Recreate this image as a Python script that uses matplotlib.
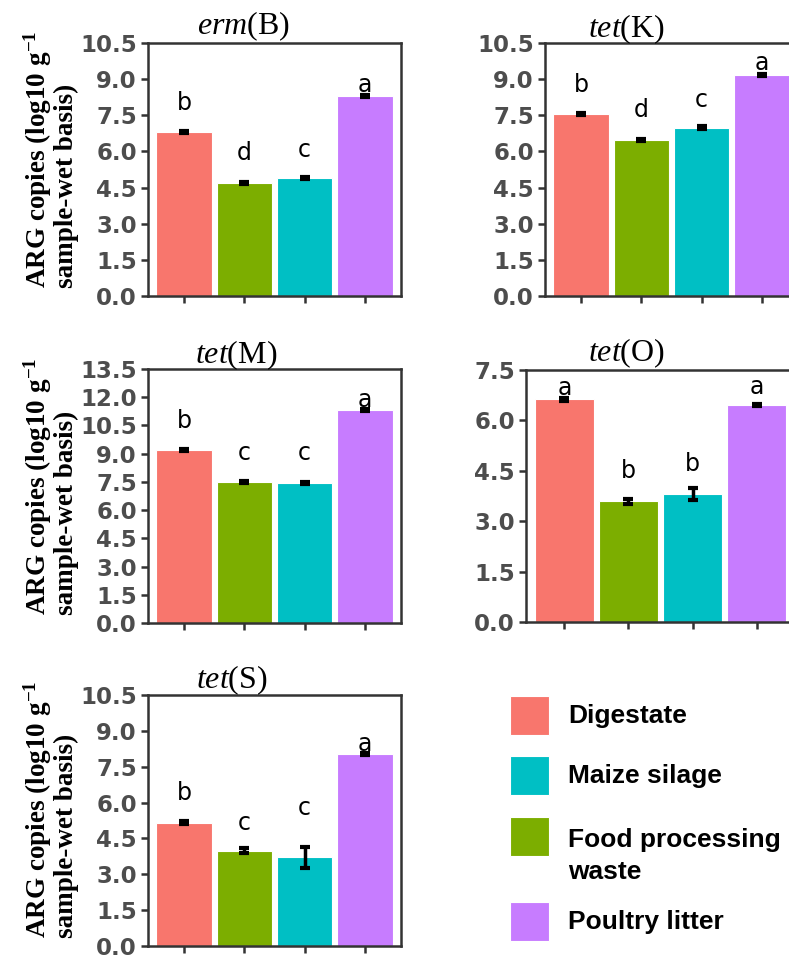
import matplotlib
matplotlib.use("Agg")
import matplotlib.pyplot as plt
from matplotlib.patches import Rectangle
import numpy as np

plt.rcParams['mathtext.fontset'] = 'custom'
plt.rcParams['mathtext.rm'] = 'Liberation Serif'
plt.rcParams['mathtext.it'] = 'Liberation Serif:italic'
plt.rcParams['mathtext.bf'] = 'Liberation Serif:bold'

# sample types, in bar order
categories = ["Digestate", "Food processing waste", "Maize silage", "Poultry litter"]
colors = ["#F8766D", "#7CAE00", "#00BFC4", "#C77CFF"]

# mean ARG copies (log10 g-1) and error bars
ermB = [6.82, 4.70, 4.88, 8.31]
ermB_err = [0.04, 0.05, 0.04, 0.05]
ermB_sig = ["b", "d", "c", "a"]
ermB_sig_y = [8.0, 5.92, 6.06, 8.76]

tetK = [7.54, 6.47, 6.98, 9.18]
tetK_err = [0.04, 0.05, 0.06, 0.05]
tetK_sig = ["b", "d", "c", "a"]
tetK_sig_y = [8.76, 7.72, 8.13, 9.65]

tetM = [9.20, 7.50, 7.43, 11.33]
tetM_err = [0.05, 0.06, 0.04, 0.06]
tetM_sig = ["b", "c", "c", "a"]
tetM_sig_y = [10.71, 9.02, 9.02, 11.86]

tetO = [6.63, 3.59, 3.81, 6.46]
tetO_err = [0.04, 0.07, 0.17, 0.04]
tetO_sig = ["a", "b", "b", "a"]
tetO_sig_y = [6.96, 4.48, 4.70, 7.0]

tetS = [5.16, 3.99, 3.72, 8.02]
tetS_err = [0.05, 0.10, 0.44, 0.05]
tetS_sig = ["b", "c", "c", "a"]
tetS_sig_y = [6.39, 5.16, 5.76, 8.45]

W, H = 789, 966
fig = plt.figure(figsize=(W / 100, H / 100), dpi=100)


def px_axes(left, top, width, height):
    return fig.add_axes([left / W, 1 - (top + height) / H, width / W, height / H])


panels = [
    # gene prefix, suffix, values, errors, letters, letter y, ymax, box (px), title centre (px)
    ("erm", "(B)", ermB, ermB_err, ermB_sig, ermB_sig_y, 10.5, (148, 43, 253, 253), (244, 26)),
    ("tet", "(K)", tetK, tetK_err, tetK_sig, tetK_sig_y, 10.5, (545, 43, 253, 253), (627, 29)),
    ("tet", "(M)", tetM, tetM_err, tetM_sig, tetM_sig_y, 13.5, (148, 369, 253, 254), (236, 355)),
    ("tet", "(O)", tetO, tetO_err, tetO_sig, tetO_sig_y, 7.5, (526, 370, 269, 252), (627, 353)),
    ("tet", "(S)", tetS, tetS_err, tetS_sig, tetS_sig_y, 10.5, (148, 695, 253, 251), (232, 680)),
]

x = np.arange(1, len(categories) + 1)
ylab = "ARG copies (log10 g$^{\\mathbf{-1}}$\nsample-wet basis)"

for prefix, suffix, vals, errs, sig, sig_y, ymax, box, tpos in panels:
    ax = px_axes(*box)
    ax.bar(x, vals, width=0.92, color=colors, edgecolor="white", linewidth=0.8, zorder=2)
    ax.errorbar(x, vals, yerr=errs, fmt="none", ecolor="black", elinewidth=2.5,
                capsize=3.5, capthick=3, zorder=3)
    for xi, s, sy in zip(x, sig, sig_y):
        ax.text(xi, sy, s, ha="center", va="center", fontsize=17,
                family="DejaVu Sans", color="black", zorder=4)
    ax.set_xlim(0.4, 4.6)
    ax.set_ylim(0, ymax)
    ax.set_yticks(np.arange(0, ymax + 0.01, 1.5))
    ax.set_yticklabels(["%.1f" % t for t in np.arange(0, ymax + 0.01, 1.5)])
    ax.set_xticks(x)
    ax.set_xticklabels([])
    ax.tick_params(axis="both", direction="out", length=5, width=1.8, color="#333333",
                   labelsize=16.5, labelcolor="#4D4D4D", pad=3)
    for lab in ax.get_yticklabels():
        lab.set_fontweight("bold")
        lab.set_family("DejaVu Sans")
    for sp in ax.spines.values():
        sp.set_color("#333333")
        sp.set_linewidth(1.8)
    fig.text(tpos[0] / W, 1 - tpos[1] / H, "$\\mathit{%s}$%s" % (prefix, suffix),
             ha="center", va="center", fontsize=23, family="Liberation Serif")
    if box[0] < 300:
        fig.text(50 / W, 1 - (box[1] + box[3] - 8) / H, ylab, rotation=90,
                 ha="center", va="bottom", multialignment="left", fontsize=19.5,
                 family="Liberation Serif", fontweight="bold", linespacing=1.0)

# legend in the empty bottom-right slot, drawn in pixel units
legend_labels = ["Digestate", "Maize silage", "Food processing\nwaste", "Poultry litter"]
legend_colors = [colors[0], colors[2], colors[1], colors[3]]
legend_rows = [716, 776, 837, 922]

lax = px_axes(440, 640, 349, 326)
lax.set_xlim(440, 789)
lax.set_ylim(966, 640)
lax.axis("off")
for c, lab, yc in zip(legend_colors, legend_labels, legend_rows):
    lax.add_patch(Rectangle((510, yc - 19.5), 39, 39, facecolor=c, edgecolor="white",
                            linewidth=0.8))
    # two-line label: first line sits level with the swatch
    ty = yc + 19 if "\n" in lab else yc
    lax.text(568, ty, lab, ha="left", va="center",
             fontsize=19, family="Liberation Sans", fontweight="bold",
             linespacing=1.45)

fig.savefig("out.png", dpi=100)
